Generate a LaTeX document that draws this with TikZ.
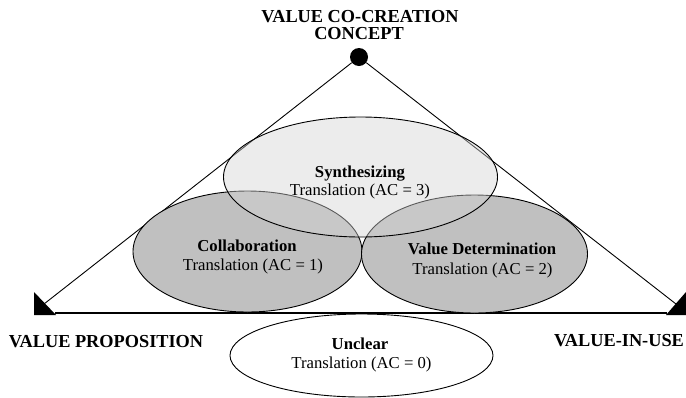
\documentclass[tikz,border=0pt]{standalone}
\usepackage{fontspec}
\setmainfont{Liberation Serif}
\usetikzlibrary{shapes.geometric}
\definecolor{ovalgray}{HTML}{C0C0C0}
\definecolor{synthgray}{HTML}{D3D3D3}
\definecolor{baseline}{HTML}{404040}
\begin{document}
\begin{tikzpicture}[x=1pt,y=-1pt,
  inner/.style={font=\fontsize{16.7}{19}\selectfont, inner sep=0pt, anchor=base},
  innerbf/.style={font=\fontsize{16.7}{19}\selectfont\bfseries, inner sep=0pt, anchor=base},
  outer/.style={font=\fontsize{18.3}{18}\selectfont\bfseries, inner sep=0pt, anchor=base},
  oval/.style={ellipse, draw, line width=0.9pt, inner sep=0pt, outer sep=0pt},
  tri/.style={fill=black}]
\useasboundingbox (0,0) rectangle (686,397);

% apex and corner coordinates
\node[circle, fill=black, minimum size=18, inner sep=0pt] (apex) at (359,57) {};
\coordinate (bl) at (44,304);
\coordinate (br) at (676,304);
\coordinate (hl) at (55,313);
\coordinate (hr) at (667,313);

% triangle sides
\draw[line width=0.9pt] (apex) -- (bl);
\draw[line width=0.9pt] (apex) -- (br);
\draw[line width=1.6pt, baseline] (hl) -- (hr);

% corner markers
\fill[tri] (34,292) -- (34,315) -- (56,315) -- cycle;
\fill[tri] (686,292) -- (686,315) -- (666,315) -- cycle;

% ovals
\node[oval, fill=ovalgray, minimum width=229, minimum height=121] (collab) at (247.5,251.5) {};
\node[oval, fill=ovalgray, minimum width=226, minimum height=118] (valdet) at (474.5,254) {};
\node[oval, fill=synthgray, fill opacity=0.43, draw opacity=1, minimum width=274, minimum height=120] (synth) at (360.5,177) {};
\node[oval, fill=white, minimum width=263, minimum height=83] (unclear) at (361.5,355.5) {};

% texts
\node[innerbf] (t3a) at (360,177) {Synthesizing};
\node[inner] (t3b) at (360,195) {Translation (AC = 3)};
\node[innerbf] (t1a) at (247,251) {Collaboration};
\node[inner] (t1b) at (253,270) {Translation (AC = 1)};
\node[innerbf] (t2a) at (482,254.5) {Value Determination};
\node[inner] (t2b) at (482.5,274.5) {Translation (AC = 2)};
\node[innerbf] (t0a) at (360,349.5) {Unclear};
\node[inner] (t0b) at (361.5,368) {Translation (AC = 0)};

\node[outer] (top1) at (360,22) {VALUE CO-CREATION};
\node[outer] (top2) at (359,39.5) {CONCEPT};
\node[outer] (lp) at (106,347) {VALUE PROPOSITION};
\node[outer] (ru) at (619,346.5) {VALUE-IN-USE};
\end{tikzpicture}
\end{document}
